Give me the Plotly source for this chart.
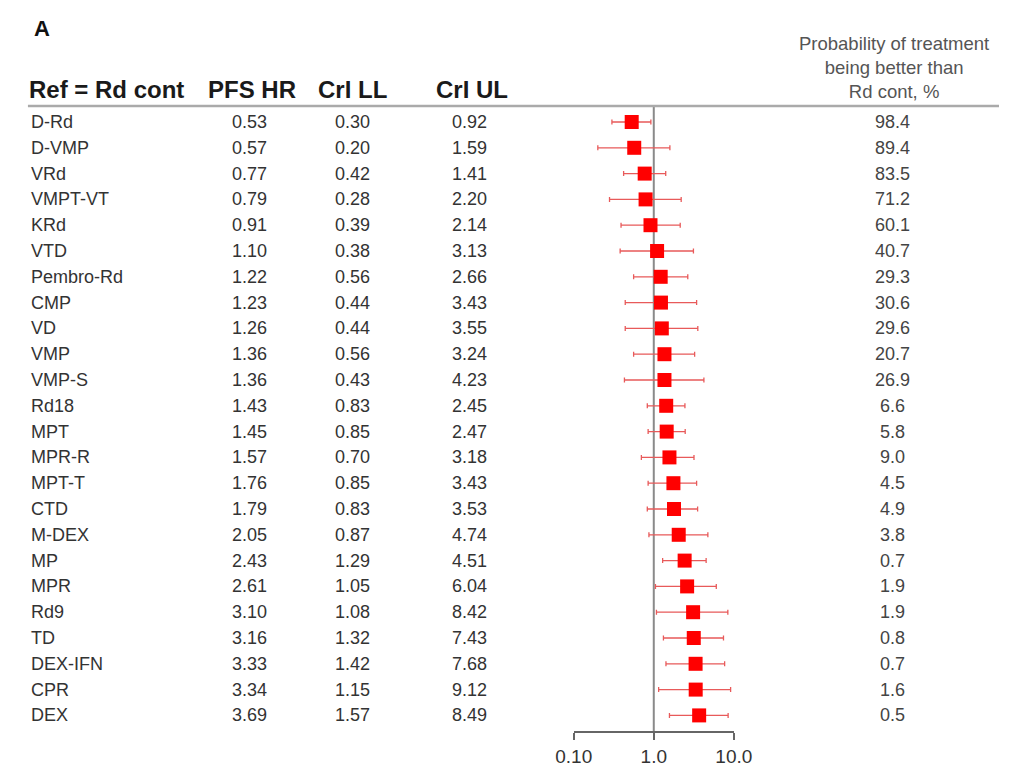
import plotly.graph_objects as go

treatments = ["D-Rd", "D-VMP", "VRd", "VMPT-VT", "KRd", "VTD", "Pembro-Rd", "CMP", "VD",
              "VMP", "VMP-S", "Rd18", "MPT", "MPR-R", "MPT-T", "CTD", "M-DEX", "MP", "MPR",
              "Rd9", "TD", "DEX-IFN", "CPR", "DEX"]
hr = [0.53, 0.57, 0.77, 0.79, 0.91, 1.10, 1.22, 1.23, 1.26, 1.36, 1.36, 1.43, 1.45, 1.57,
      1.76, 1.79, 2.05, 2.43, 2.61, 3.10, 3.16, 3.33, 3.34, 3.69]
crl_ll = [0.30, 0.20, 0.42, 0.28, 0.39, 0.38, 0.56, 0.44, 0.44, 0.56, 0.43, 0.83, 0.85, 0.70,
          0.85, 0.83, 0.87, 1.29, 1.05, 1.08, 1.32, 1.42, 1.15, 1.57]
crl_ul = [0.92, 1.59, 1.41, 2.20, 2.14, 3.13, 2.66, 3.43, 3.55, 3.24, 4.23, 2.45, 2.47, 3.18,
          3.43, 3.53, 4.74, 4.51, 6.04, 8.42, 7.43, 7.68, 9.12, 8.49]
prob_better = [98.4, 89.4, 83.5, 71.2, 60.1, 40.7, 29.3, 30.6, 29.6, 20.7, 26.9, 6.6, 5.8,
               9.0, 4.5, 4.9, 3.8, 0.7, 1.9, 1.9, 0.8, 0.7, 1.6, 0.5]
tick_vals = [0.1, 1.0, 10.0]
tick_text = ["0.10", "1.0", "10.0"]

W, H = 1009, 766
OFF = 8  # page margin offset in the screenshot


def px(xp):
    return (xp - OFF) / W


def py(yp):
    return 1 - (yp - OFF) / H


row0_px, row_step = 122 - OFF, 25.8
rows = list(range(len(treatments)))
y_top = (0 - row0_px) / row_step
y_bot = (H - row0_px) / row_step

fig = go.Figure()
fig.add_trace(go.Scatter(
    x=hr, y=rows, mode="markers",
    marker=dict(symbol="square", size=14, color="#ff0000"),
    error_x=dict(type="data", symmetric=False,
                 array=[u - h for u, h in zip(crl_ul, hr)],
                 arrayminus=[h - l for h, l in zip(hr, crl_ll)],
                 color="#e85a5a", thickness=1.3, width=2.5),
    showlegend=False, hoverinfo="skip", cliponaxis=False,
))

FAM = "Liberation Sans, Arial, sans-serif"
font_body = dict(family=FAM, size=18, color="#333")
font_prob = dict(family=FAM, size=18, color="#444")
ann = []
col_x = {"pfs": 240, "ll": 347, "ul": 468, "prob": 907}
for i, t in enumerate(treatments):
    ann.append(dict(x=px(11), y=i, xref="paper", yref="y", text=t, showarrow=False,
                    xanchor="left", yanchor="middle", font=font_body))
    ann.append(dict(x=px(col_x["pfs"]), y=i, xref="paper", yref="y", text=f"{hr[i]:.2f}",
                    showarrow=False, xanchor="center", yanchor="middle", font=font_body))
    ann.append(dict(x=px(col_x["ll"]), y=i, xref="paper", yref="y", text=f"{crl_ll[i]:.2f}",
                    showarrow=False, xanchor="center", yanchor="middle", font=font_body))
    ann.append(dict(x=px(col_x["ul"]), y=i, xref="paper", yref="y", text=f"{crl_ul[i]:.2f}",
                    showarrow=False, xanchor="center", yanchor="middle", font=font_body))
    ann.append(dict(x=px(col_x["prob"]), y=i, xref="paper", yref="y", text=f"{prob_better[i]:.1f}",
                    showarrow=False, xanchor="center", yanchor="middle", font=font_prob))

font_head = dict(family=FAM, size=24, color="#1a1a1a")
head_y = py(89)
ann += [
    dict(x=px(14), y=py(29), xref="paper", yref="paper", text="<b>A</b>", showarrow=False,
         xanchor="left", yanchor="middle", font=dict(family=FAM, size=22, color="#111")),
    dict(x=px(9), y=head_y, xref="paper", yref="paper", text="<b>Ref = Rd cont</b>", showarrow=False,
         xanchor="left", yanchor="middle", font=font_head),
    dict(x=px(242), y=head_y, xref="paper", yref="paper", text="<b>PFS HR</b>", showarrow=False,
         xanchor="center", yanchor="middle", font=font_head),
    dict(x=px(347), y=head_y, xref="paper", yref="paper", text="<b>CrI LL</b>", showarrow=False,
         xanchor="center", yanchor="middle", font=font_head),
    dict(x=px(470), y=head_y, xref="paper", yref="paper", text="<b>CrI UL</b>", showarrow=False,
         xanchor="center", yanchor="middle", font=font_head),
    dict(x=px(908), y=py(68), xref="paper", yref="paper",
         text="Probability of treatment<br>being better than<br>Rd cont, %", showarrow=False,
         xanchor="center", yanchor="middle", align="center",
         font=dict(family=FAM, size=18.5, color="#555")),
]

axis_y_px = 732
fig.update_layout(
    width=W, height=H,
    margin=dict(l=0, r=0, t=0, b=0),
    paper_bgcolor="white", plot_bgcolor="white",
    annotations=ann,
    xaxis=dict(type="log", range=[-1, 1], domain=[px(576), px(742)],
               anchor="free", position=py(axis_y_px),
               showline=True, linecolor="#666", linewidth=2,
               ticks="outside", ticklen=7, tickcolor="#666", tickwidth=2,
               tickvals=tick_vals, ticktext=tick_text, showgrid=False, zeroline=False,
               tickfont=dict(family=FAM, size=19, color="#333")),
    yaxis=dict(range=[y_bot, y_top], domain=[0, 1], visible=False, showgrid=False),
    shapes=[
        dict(type="line", xref="paper", yref="paper", x0=px(10), x1=1,
             y0=py(106), y1=py(106), line=dict(color="#aaa", width=2.5)),
        dict(type="line", xref="x", yref="paper", x0=1, x1=1,
             y0=py(axis_y_px), y1=py(106), line=dict(color="#8a8a8a", width=2),
             layer="below"),
    ],
)

fig.write_html("out.html")
